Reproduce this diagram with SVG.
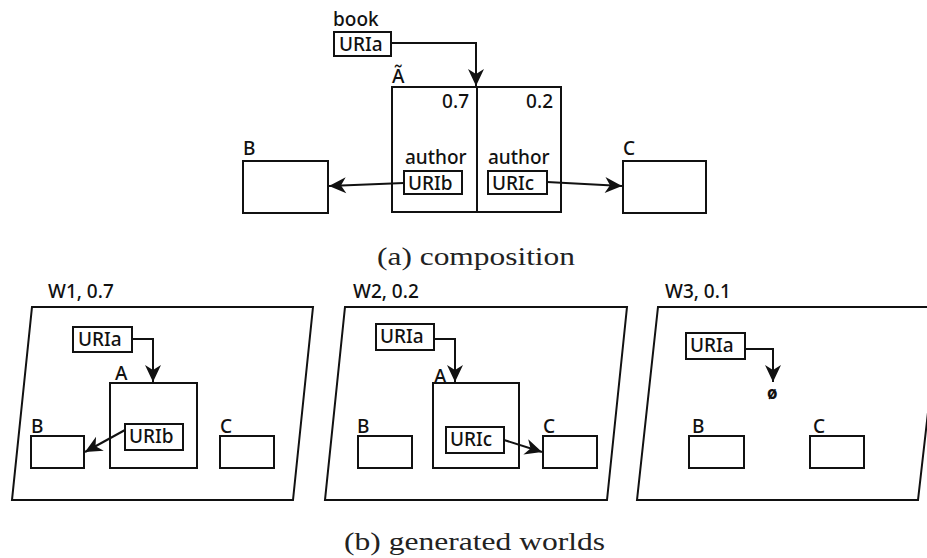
<svg xmlns="http://www.w3.org/2000/svg" width="927" height="558" viewBox="0 0 927 558">
<defs>
<style>
.t{font-family:"Noto Sans","DejaVu Sans",sans-serif;font-size:19px;font-weight:500;fill:#111}
.cap{font-family:"Liberation Serif","DejaVu Serif",serif;font-size:26px;fill:#222}
.b{fill:#fff;stroke:#111;stroke-width:2}
.w{fill:#fff;stroke:#111;stroke-width:2}
.c{fill:none;stroke:#111;stroke-width:2}
</style>
<marker id="ah" viewBox="-18 -9 19 18" refX="0" refY="0" markerWidth="19" markerHeight="18" orient="auto" markerUnits="userSpaceOnUse">
<path d="M0,0 L-17,-8 L-12,0 L-17,8 Z" fill="#111"/>
</marker>
</defs>

<!-- (a) composition -->
<g id="nodeA">
<text class="t" x="392" y="83">Ã</text>
<rect class="b" x="392" y="87" width="169" height="125"/>
<line x1="477" y1="87" x2="477" y2="212" stroke="#111" stroke-width="2"/>
<text class="t" x="469" y="108" text-anchor="end">0.7</text>
<text class="t" x="553" y="108" text-anchor="end">0.2</text>
<text class="t" x="405" y="164">author</text>
<text class="t" x="488" y="164">author</text>
</g>
<g id="book">
<text class="t" x="333" y="26">book</text>
<rect class="b" x="334" y="32" width="57" height="24"/>
<text class="t" x="339" y="51">URIa</text>
</g>
<g id="uriB">
<rect class="b" x="404" y="171" width="58" height="23"/>
<text class="t" x="408" y="190">URIb</text>
</g>
<g id="uriC">
<rect class="b" x="488" y="171" width="59" height="23"/>
<text class="t" x="492" y="190">URIc</text>
</g>
<g id="nodeB">
<text class="t" x="243" y="155">B</text>
<rect class="b" x="243" y="161" width="85" height="52"/>
</g>
<g id="nodeC">
<text class="t" x="623" y="155">C</text>
<rect class="b" x="623" y="161" width="83" height="52"/>
</g>
<text class="cap" x="377" y="265" textLength="198" lengthAdjust="spacingAndGlyphs">(a) composition</text>

<!-- (b) worlds -->
<g id="world1">
<text class="t" x="48" y="298">W1, 0.7</text>
<polygon class="w" points="32,307 313,307 293,500 12,500"/>
<rect class="b" x="73" y="327" width="59" height="25"/>
<text class="t" x="78" y="346">URIa</text>
<text class="t" x="115" y="380">A</text>
<rect class="b" x="110" y="383" width="87" height="85"/>
<rect class="b" x="125" y="424" width="58" height="26"/>
<text class="t" x="129" y="443">URIb</text>
<text class="t" x="31" y="433">B</text>
<rect class="b" x="31" y="436" width="53" height="32"/>
<text class="t" x="220" y="433">C</text>
<rect class="b" x="220" y="436" width="54" height="32"/>
</g>
<g id="world2">
<text class="t" x="353" y="298">W2, 0.2</text>
<polygon class="w" points="345,307 627,307 607,500 325,500"/>
<rect class="b" x="376" y="324" width="58" height="26"/>
<text class="t" x="380" y="343">URIa</text>
<text class="t" x="434" y="383">A</text>
<rect class="b" x="433" y="383" width="86" height="85"/>
<rect class="b" x="446" y="427" width="58" height="26"/>
<text class="t" x="450" y="446">URIc</text>
<text class="t" x="357" y="433">B</text>
<rect class="b" x="358" y="436" width="54" height="32"/>
<text class="t" x="543" y="433">C</text>
<rect class="b" x="543" y="436" width="54" height="32"/>
</g>
<g id="world3">
<text class="t" x="665" y="298">W3, 0.1</text>
<polygon class="w" points="658,307 940,307 918,500 637,500"/>
<rect class="b" x="686" y="333" width="59" height="26"/>
<text class="t" x="690" y="352">URIa</text>
<text class="t" x="767" y="399" style="font-size:17px;font-weight:bold">ø</text>
<text class="t" x="692" y="433">B</text>
<rect class="b" x="689" y="436" width="55" height="32"/>
<text class="t" x="813" y="433">C</text>
<rect class="b" x="810" y="436" width="54" height="32"/>
</g>
<text class="cap" x="344" y="550" textLength="261" lengthAdjust="spacingAndGlyphs">(b) generated worlds</text>

<g id="connectors">
<path class="c" d="M391,43 H476 V86" marker-end="url(#ah)"/>
<path class="c" d="M404,183 L329,186" marker-end="url(#ah)"/>
<path class="c" d="M547,182 L622,186" marker-end="url(#ah)"/>
<path class="c" d="M132,339 H153 V382" marker-end="url(#ah)"/>
<path class="c" d="M125,430 L85,452" marker-end="url(#ah)"/>
<path class="c" d="M434,339 H455 V382" marker-end="url(#ah)"/>
<path class="c" d="M504,440 L542,452" marker-end="url(#ah)"/>
<path class="c" d="M745,349 H773 V382" marker-end="url(#ah)"/>
</g>
</svg>
